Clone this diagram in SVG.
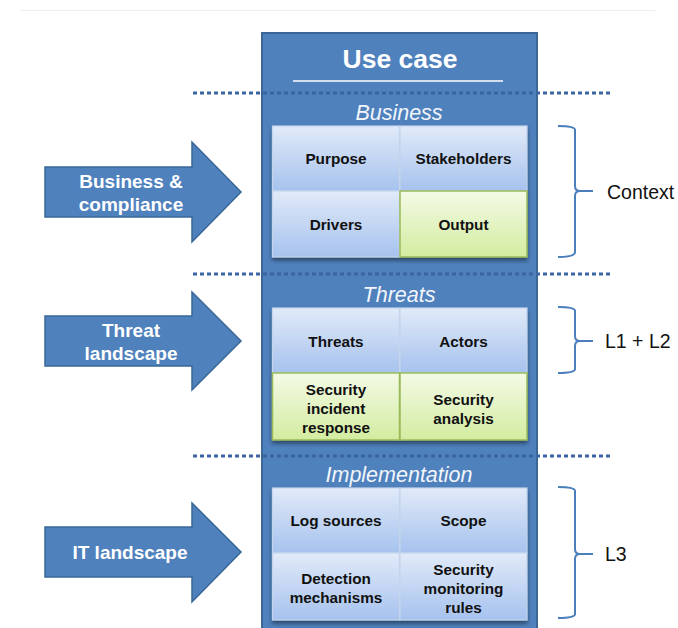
<svg xmlns="http://www.w3.org/2000/svg" width="678" height="628" viewBox="0 0 678 628">
  <defs>
    <linearGradient id="gBlue" x1="0" y1="0" x2="0" y2="1">
      <stop offset="0" stop-color="#e1eaf8"/>
      <stop offset="1" stop-color="#a6c2ee"/>
    </linearGradient>
    <linearGradient id="gGreen" x1="0" y1="0" x2="0" y2="1">
      <stop offset="0" stop-color="#f4fae6"/>
      <stop offset="1" stop-color="#d3eca0"/>
    </linearGradient>
    <filter id="shadow" x="-10%" y="-10%" width="120%" height="125%">
      <feGaussianBlur in="SourceAlpha" stdDeviation="2"/>
      <feOffset dx="0" dy="3" result="b"/>
      <feComponentTransfer><feFuncA type="linear" slope="0.45"/></feComponentTransfer>
      <feMerge><feMergeNode/><feMergeNode in="SourceGraphic"/></feMerge>
    </filter>
  </defs>
  <style>
    .cell { stroke: #c3d4ec; stroke-width: 1.2; }
    .blue { fill: url(#gBlue); }
    .green { fill: url(#gGreen); stroke: #9bbb59; stroke-width: 1.5; }
    .ct { font-family: "Liberation Sans", Arial, sans-serif; font-weight: bold; font-size: 15.3px; fill: #111; text-anchor: middle; }
    .sec { font-family: "Liberation Sans", Arial, sans-serif; font-style: italic; font-size: 21.5px; fill: #f2f5fa; text-anchor: middle; }
    .arrow { fill: #4f81bd; stroke: #3a6797; stroke-width: 1.5; }
    .at { font-family: "Liberation Sans", Arial, sans-serif; font-weight: bold; font-size: 19px; fill: #ffffff; text-anchor: middle; }
    .brace { fill: none; stroke: #4a7ebd; stroke-width: 2; }
    .bt { font-family: "Liberation Sans", Arial, sans-serif; font-size: 19.5px; fill: #111; }
    .dots { stroke: #3b64a0; stroke-width: 3; stroke-dasharray: 4 3; }
  </style>

  <rect width="678" height="628" fill="#ffffff"/>
  <line x1="20" y1="10.5" x2="655" y2="10.5" stroke="#eeeeee" stroke-width="1"/>

  <!-- central use case column -->
  <g id="usecase">
    <rect x="262" y="33" width="275" height="610" fill="#4f81bd" stroke="#3a6797" stroke-width="2"/>
    <text x="400" y="68" font-family="'Liberation Sans', Arial, sans-serif" font-weight="bold" font-size="26.5" fill="#ffffff" text-anchor="middle">Use case</text>
    <line x1="293" y1="81" x2="503" y2="81" stroke="#ffffff" stroke-width="1.5"/>
  </g>

  <!-- section separators -->
  <g id="separators">
    <line class="dots" x1="193" y1="93" x2="612" y2="93"/>
    <line class="dots" x1="193" y1="274" x2="612" y2="274"/>
    <line class="dots" x1="193" y1="456" x2="612" y2="456"/>
  </g>

  <!-- Business -->
  <g id="business">
    <text class="sec" x="399" y="120">Business</text>
    <g filter="url(#shadow)">
      <rect class="cell blue" x="272.5" y="126" width="127" height="65"/>
      <rect class="cell blue" x="400" y="126" width="127" height="65"/>
      <rect class="cell blue" x="272.5" y="191" width="127" height="66"/>
      <rect class="green" x="400" y="191" width="127" height="66"/>
    </g>
    <text class="ct" x="336" y="164">Purpose</text>
    <text class="ct" x="463.5" y="164">Stakeholders</text>
    <text class="ct" x="336" y="230">Drivers</text>
    <text class="ct" x="463.5" y="230">Output</text>
  </g>

  <!-- Threats -->
  <g id="threats">
    <text class="sec" x="399" y="302">Threats</text>
    <g filter="url(#shadow)">
      <rect class="cell blue" x="272.5" y="308" width="127" height="65"/>
      <rect class="cell blue" x="400" y="308" width="127" height="65"/>
      <rect class="green" x="272.5" y="373" width="127" height="67"/>
      <rect class="green" x="400" y="373" width="127" height="67"/>
    </g>
    <text class="ct" x="336" y="347">Threats</text>
    <text class="ct" x="463.5" y="347">Actors</text>
    <text class="ct" x="336" y="395">Security</text>
    <text class="ct" x="336" y="414">incident</text>
    <text class="ct" x="336" y="433">response</text>
    <text class="ct" x="463.5" y="405">Security</text>
    <text class="ct" x="463.5" y="424">analysis</text>
  </g>

  <!-- Implementation -->
  <g id="implementation">
    <text class="sec" x="399" y="482">Implementation</text>
    <g filter="url(#shadow)">
      <rect class="cell blue" x="272.5" y="488" width="127" height="65"/>
      <rect class="cell blue" x="400" y="488" width="127" height="65"/>
      <rect class="cell blue" x="272.5" y="553" width="127" height="67"/>
      <rect class="cell blue" x="400" y="553" width="127" height="67"/>
    </g>
    <text class="ct" x="336" y="526">Log sources</text>
    <text class="ct" x="463.5" y="526">Scope</text>
    <text class="ct" x="336" y="584">Detection</text>
    <text class="ct" x="336" y="603">mechanisms</text>
    <text class="ct" x="463.5" y="575">Security</text>
    <text class="ct" x="463.5" y="594">monitoring</text>
    <text class="ct" x="463.5" y="613">rules</text>
  </g>

  <!-- input arrows -->
  <g id="arrow-business">
    <path class="arrow" d="M45,167 H192 V142 L241,192 L192,242 V217 H45 Z"/>
    <text class="at" x="131" y="188">Business &amp;</text>
    <text class="at" x="131" y="211">compliance</text>
  </g>
  <g id="arrow-threat">
    <path class="arrow" d="M45,316 H192 V292 L241,341 L192,390 V366 H45 Z"/>
    <text class="at" x="131" y="337">Threat</text>
    <text class="at" x="131" y="360">landscape</text>
  </g>
  <g id="arrow-it">
    <path class="arrow" d="M45,527 H192 V503 L241,552 L192,602 V577 H45 Z"/>
    <text class="at" x="130" y="559">IT landscape</text>
  </g>

  <!-- braces -->
  <g id="brace-context">
    <path class="brace" d="M558,126 Q575,126 575,130 V186 Q575,191 580,191 H593 M580,191 Q575,191 575,196 V252 Q575,257 558,257"/>
    <text class="bt" x="607" y="199">Context</text>
  </g>
  <g id="brace-l1l2">
    <path class="brace" d="M558,307 Q575,307 575,311 V336 Q575,341 580,341 H593 M580,341 Q575,341 575,346 V369 Q575,373 558,373"/>
    <text class="bt" x="605" y="348">L1 + L2</text>
  </g>
  <g id="brace-l3">
    <path class="brace" d="M558,487 Q575,487 575,491 V549 Q575,554 580,554 H593 M580,554 Q575,554 575,559 V614 Q575,618 558,618"/>
    <text class="bt" x="605" y="561">L3</text>
  </g>
</svg>
